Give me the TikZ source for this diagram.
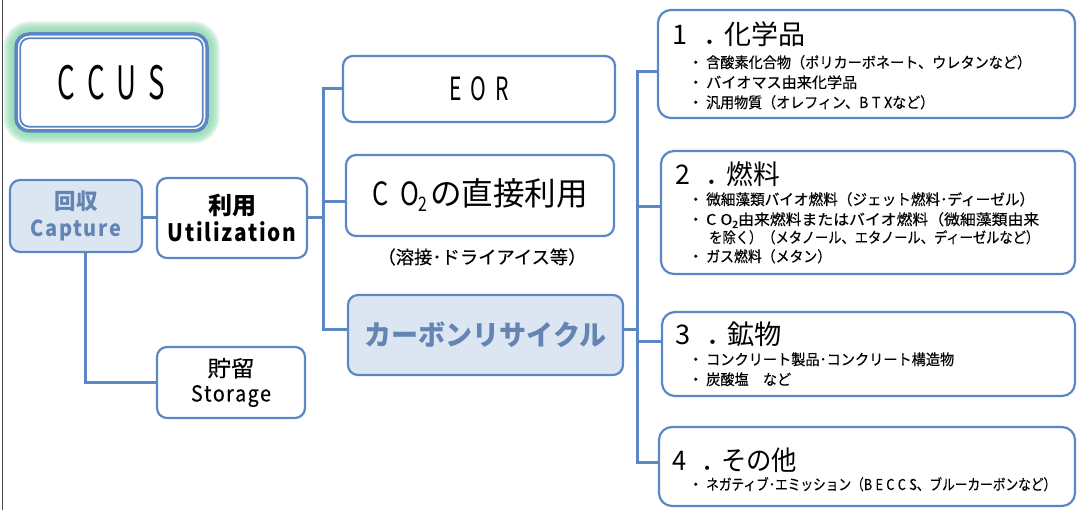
\documentclass[tikz,border=0pt]{standalone}
\usepackage{fontspec}
\usepackage{graphicx}
\usetikzlibrary{calc}
\setmainfont{Noto Sans CJK JP}
\newfontfamily\jp{Noto Sans CJK JP}
\newfontfamily\jpm[FakeBold=0.35]{Noto Sans CJK JP}
\newcommand\fsz[1]{\fontsize{#1pt}{#1pt}\selectfont}
\newcommand\W[2]{\resizebox{#1pt}{\height}{#2}}
\newcommand\bu{{・}\kern3pt}
\definecolor{bblue}{HTML}{5B87C6}
\definecolor{lblue}{HTML}{DCE6F2}
\definecolor{tblue}{HTML}{6485B3}
\definecolor{glowg}{HTML}{8ED8AE}
\begin{document}
\begin{tikzpicture}[x=1pt,y=-1pt,
 box/.style={draw=bblue,line width=2.2pt,rounded corners=10pt,fill=white,inner sep=0pt,align=center},
 lbox/.style={box,fill=lblue,text=tblue},
 rbox/.style={box,rounded corners=13pt},
 conn/.style={draw=bblue,line width=3pt},
 head/.style={anchor=base west,inner sep=0pt,font=\jp\fsz{27}},
 bul/.style={anchor=base west,inner sep=0pt,font=\jpm\fsz{15}},
]
\useasboundingbox (0,0) rectangle (1079,510);
\draw[black!70,line width=1pt] (2,0) -- (2,510);
% glow
\foreach \w in {25,21,17,13,9,5} {\draw[glowg,line width=\w pt,opacity=0.3,rounded corners=14pt] (16,34) rectangle (207,131);}
\node[box,line width=3.5pt,rounded corners=13pt,minimum width=191pt,minimum height=97pt] (ccus) at (111.5,82.5)
  {\fsz{46}\W{108}{C\kern20pt C\kern20pt U\kern20pt S}};
\draw[bblue,line width=1.8pt,rounded corners=9pt] ($(ccus.north west)+(6,6)$) rectangle ($(ccus.south east)+(-6,-6)$);

% left column
\node[lbox,minimum width=132pt,minimum height=72pt,font={\fontsize{22pt}{27pt}\selectfont\bfseries}] (cap) at (76,216)
  {\W{43}{回収}\\\W{90}{C\kern1.5pt a\kern1.5pt p\kern1.5pt t\kern1.5pt u\kern1.5pt r\kern1.5pt e}};
\node[box,minimum width=150pt,minimum height=80pt,font={\fontsize{24pt}{27pt}\selectfont\bfseries}] (util) at (232,218)
  {\W{48}{利用}\\\W{129}{U\kern2pt t\kern2pt i\kern2pt l\kern2pt i\kern2pt z\kern2pt a\kern2pt t\kern2pt i\kern2pt o\kern2pt n}};
\node[box,minimum width=148pt,minimum height=71pt,font={\fontsize{22pt}{25pt}\selectfont\jpm}] (stor) at (231,382.5)
  {\W{47}{貯留}\\\W{80}{S\kern1.5pt t\kern1.5pt o\kern1.5pt r\kern1.5pt a\kern1.5pt g\kern1.5pt e}};

% middle column
\node[box,minimum width=272pt,minimum height=66pt] (eor) at (479,89)
  {\fsz{32}\W{60}{E\kern14pt O\kern14pt R}};
\node[box,minimum width=268pt,minimum height=81pt] (co2) at (480,195.5)
  {\fsz{32}\W{58}{C\kern15pt O\raisebox{-6pt}{\fsz{20}2}\kern3pt}\W{158}{の直接利用}};
\node[inner sep=0pt,font=\jpm\fsz{18}] (cap2) at (482,257) {\W{209}{（溶接･ドライアイス等）}};
\node[lbox,minimum width=275pt,minimum height=80pt] (rec) at (485.5,335)
  {\fsz{28}\bfseries\W{242}{カーボンリサイクル}};

% right column
\node[rbox,minimum width=417pt,minimum height=108pt] (r1) at (866.5,64) {};
\node[rbox,minimum width=414pt,minimum height=123pt] (r2) at (868,212.5) {};
\node[rbox,minimum width=413pt,minimum height=84pt] (r3) at (868.5,354) {};
\node[rbox,minimum width=416pt,minimum height=79pt] (r4) at (867,466.5) {};

\node[head] (h1) at (672,45) {\W{133}{1\kern16pt．\kern-6pt化学品}};
\node[bul] (b11) at (688,68) {\bu\W{325}{含酸素化合物（ポリカーボネート、ウレタンなど）}};
\node[bul] (b12) at (688,88) {\bu\W{151}{バイオマス由来化学品}};
\node[bul] (b13) at (688,108) {\bu\W{228}{汎用物質（オレフィン、B\kern4pt T\kern4pt Xなど）}};

\node[head] (h2) at (675,185) {\W{105}{2\kern16pt．\kern-6pt燃料}};
\node[bul] (b21) at (688,205) {\bu\W{328}{微細藻類バイオ燃料（ジェット燃料･ディーゼル）}};
\node[bul] (b22) at (688,225) {\bu\W{333}{C\kern4pt O\raisebox{-3pt}{\fsz{10}2}由来燃料またはバイオ燃料（微細藻類由来}};
\node[bul] (b23) at (709,243) {\W{330}{を除く）（メタノール、エタノール、ディーゼルなど）}};
\node[bul] (b24) at (688,262) {\bu\W{125}{ガス燃料（メタン）}};

\node[head] (h3) at (675,345) {\W{107}{3\kern16pt．\kern-6pt鉱物}};
\node[bul] (b31) at (688,365) {\bu\W{248}{コンクリート製品･コンクリート構造物}};
\node[bul] (b32) at (688,385) {\bu\W{85}{炭酸塩　など}};

\node[head] (h4) at (672,470) {\W{125}{4\kern16pt．\kern-6ptその他}};
\node[bul] (b41) at (688,490) {\bu\W{350}{ネガティブ･エミッション（B\kern4pt E\kern4pt C\kern4pt C\kern4pt S、ブルーカーボンなど）}};

% connectors
\coordinate (j1) at (323,0);
\coordinate (j2) at (637,0);
\draw[conn] ($(util.west -| cap.east)$) -- (util.west);
\draw[conn] ($(cap.south)+(9,0)$) |- (stor.west);
\draw[conn] (util.east) -- (util.east -| j1);
\draw[conn] (eor.west) -- (eor.west -| j1) -- ($(rec.west -| j1)+(0,-5)$) -- ($(rec.west)+(0,-5)$);
\draw[conn] ($(co2.west)+(0,6)$) -- ($(co2.west -| j1)+(0,6)$);
\draw[conn] ($(rec.east)+(0,-5)$) -- ($(rec.east -| j2)+(0,-5)$);
\draw[conn] ($(r1.west)+(0,8)$) -| ($(r4.west -| j2)+(0,-4)$) -- ($(r4.west)+(0,-4)$);
\draw[conn] ($(r2.west)+(0,-5.5)$) -- ($(r2.west -| j2)+(0,-5.5)$);
\draw[conn] ($(r3.west)+(0,-12)$) -- ($(r3.west -| j2)+(0,-12)$);
\end{tikzpicture}
\end{document}
